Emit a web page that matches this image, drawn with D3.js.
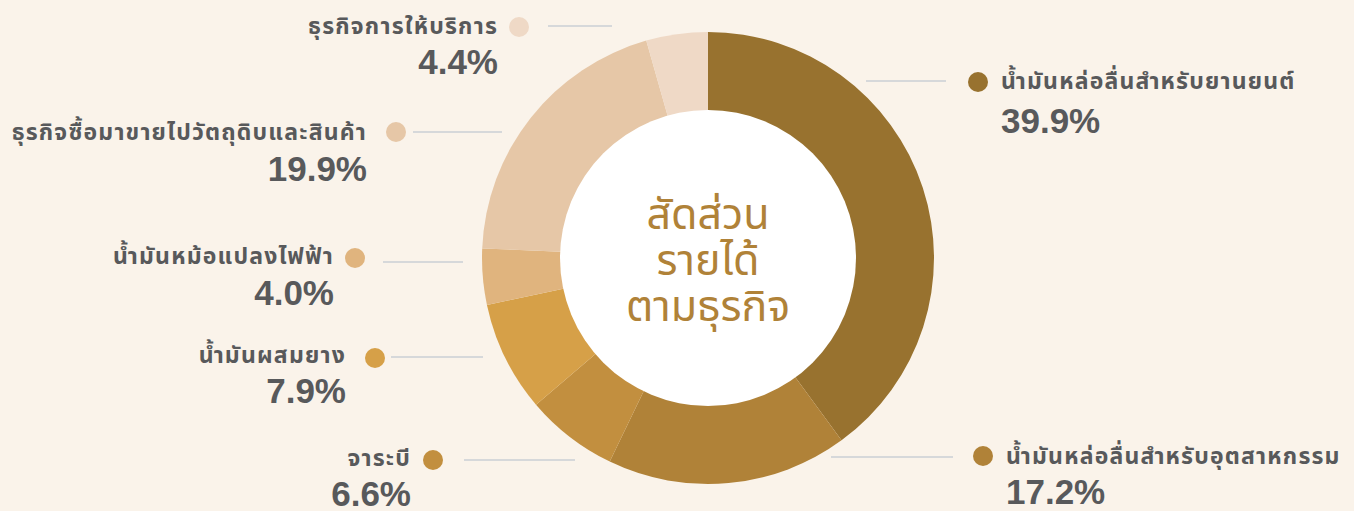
<!DOCTYPE html>
<html><head><meta charset="utf-8">
<script src="https://cdn.jsdelivr.net/npm/d3@7"></script>
<style>
html,body{margin:0;padding:0;background:#faf3ea;}
svg{display:block;}
text{font-family:"Noto Sans Thai","Noto Sans","Open Sans",sans-serif;}
</style></head>
<body>
<svg id="chart" width="1354" height="511"></svg>
<script>
const categories = [
  "น้ำมันหล่อลื่นสำหรับยานยนต์",
  "น้ำมันหล่อลื่นสำหรับอุตสาหกรรม",
  "จาระบี",
  "น้ำมันผสมยาง",
  "น้ำมันหม้อแปลงไฟฟ้า",
  "ธุรกิจซื้อมาขายไปวัตถุดิบและสินค้า",
  "ธุรกิจการให้บริการ"
];
const values = [39.9, 17.2, 6.6, 7.9, 4.0, 19.9, 4.4];
const colors = ["#98722f","#b08238","#c28f3f","#d6a048","#e0b47e","#e6c7a7","#efd9c6"];
const centerTitle = ["สัดส่วน","รายได้","ตามธุรกิจ"];

// label layout (positions only)
const layout = [
  {side:"R", dot:[978,82],  line:[866,946,81],  tx:1001, ny:82,  py:120},
  {side:"R", dot:[983,456], line:[831,953,457], tx:1006, ny:457, py:491},
  {side:"L", dot:[433,460], line:[464,575,460], tx:411,  ny:459, py:493},
  {side:"L", dot:[375,358], line:[391,483,357], tx:346,  ny:356, py:390},
  {side:"L", dot:[355,258], line:[383,463,262], tx:334,  ny:257, py:292},
  {side:"L", dot:[396,132], line:[413,502,132], tx:367,  ny:133, py:168},
  {side:"L", dot:[519,27],  line:[548,612,26],  tx:498,  ny:27,  py:61}
];

const svg = d3.select("#chart");
const cx = 708, cy = 258, rOuter = 226, rInner = 148;

const pie = d3.pie().sort(null).value(d => d)(values);
const arc = d3.arc().innerRadius(0).outerRadius(rOuter);
const g = svg.append("g").attr("transform", `translate(${cx},${cy})`);
g.selectAll("path").data(pie).enter().append("path")
  .attr("d", arc).attr("fill", (d,i) => colors[i]);
g.append("circle").attr("r", rInner).attr("fill", "#ffffff");

g.selectAll("text.center").data(centerTitle).enter().append("text")
  .attr("class","center")
  .attr("x", 0).attr("y", (d,i) => -43 + i*46)
  .attr("text-anchor","middle").attr("dominant-baseline","central")
  .attr("font-size", 43).attr("fill", "#b08238")
  .text(d => d);

const lab = svg.append("g");
categories.forEach((c,i) => {
  const L = layout[i];
  lab.append("line").attr("x1",L.line[0]).attr("x2",L.line[1])
    .attr("y1",L.line[2]).attr("y2",L.line[2])
    .attr("stroke","#d6d8da").attr("stroke-width",2);
  lab.append("circle").attr("cx",L.dot[0]).attr("cy",L.dot[1]).attr("r",10)
    .attr("fill",colors[i]);
  const anchor = L.side === "R" ? "start" : "end";
  lab.append("text").attr("x",L.tx).attr("y",L.ny)
    .attr("text-anchor",anchor).attr("dominant-baseline","central")
    .attr("font-size",23).attr("font-weight","bold").attr("fill","#58595b")
    .attr("letter-spacing", 1.2)
    .text(c);
  lab.append("text").attr("x",L.tx).attr("y",L.py)
    .attr("text-anchor",anchor).attr("dominant-baseline","central")
    .attr("font-size",35).attr("font-weight","bold").attr("fill","#58595b")
    .style("font-family","'Liberation Sans',Arial,sans-serif")
    .text(d3.format(".1f")(values[i]) + "%");
});
</script>
</body></html>
